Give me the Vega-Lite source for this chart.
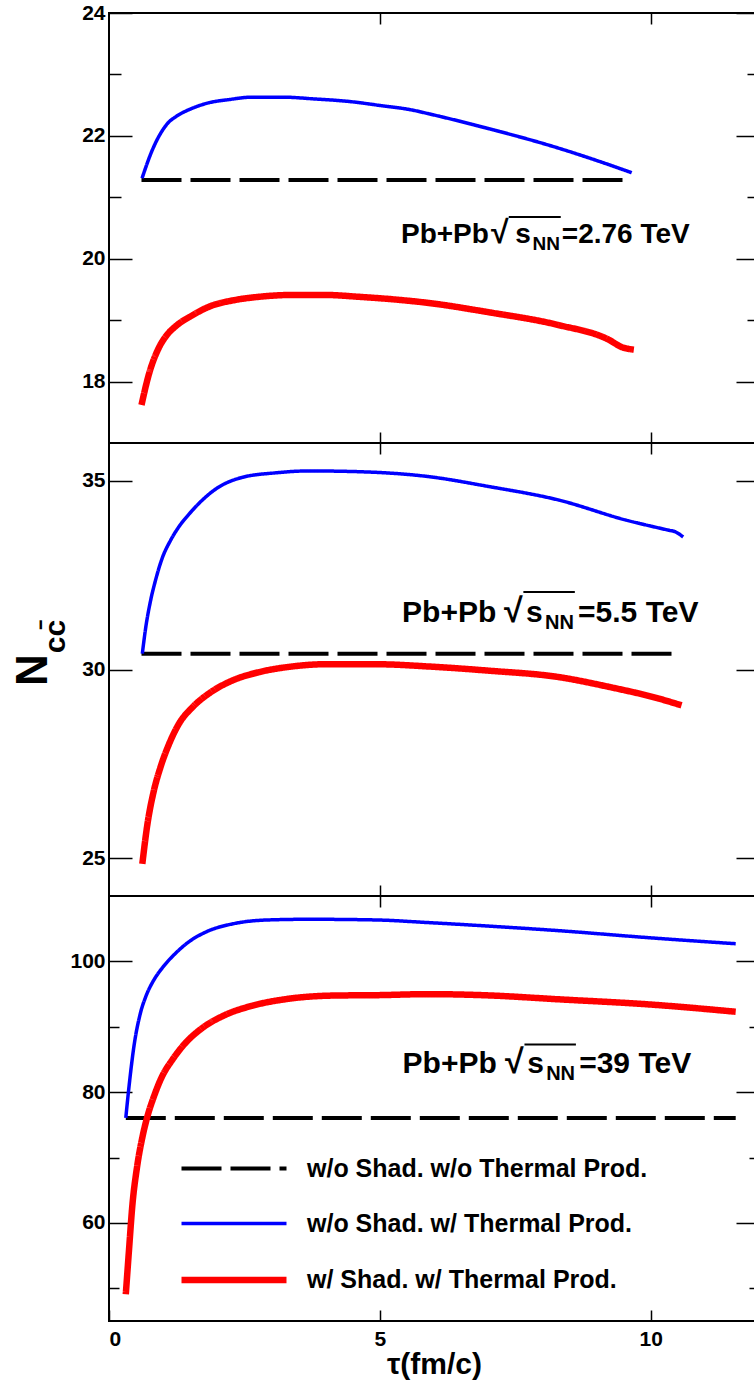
{
  "$schema": "https://vega.github.io/schema/vega-lite/v6.json",
  "autosize": {"type": "pad"},
  "padding": {"left": 10, "top": 1, "right": 0, "bottom": 0},
  "background": "white",
  "config": {
    "view": {"stroke": "black", "strokeWidth": 2},
    "axis": {"domain": false, "grid": false, "tickColor": "black", "tickWidth": 1.5, "labelFont": "Liberation Sans", "labelFontWeight": "bold", "labelFontSize": 21, "labelColor": "black", "titleFont": "Liberation Sans", "titleFontWeight": "bold", "titleColor": "black"},
    "text": {"font": "Liberation Sans", "fontWeight": "bold", "color": "black"}
  },
  "datasets": {
    "curves": [
      {"p": 1, "s": "w/o Shad. w/o Thermal Prod.", "t": 0.6, "n": 21.28},
      {"p": 1, "s": "w/o Shad. w/o Thermal Prod.", "t": 9.6, "n": 21.28},
      {"p": 1, "s": "w/o Shad. w/ Thermal Prod.", "t": 0.61, "n": 21.31},
      {"p": 1, "s": "w/o Shad. w/ Thermal Prod.", "t": 0.8, "n": 21.77},
      {"p": 1, "s": "w/o Shad. w/ Thermal Prod.", "t": 0.98, "n": 22.08},
      {"p": 1, "s": "w/o Shad. w/ Thermal Prod.", "t": 1.1, "n": 22.22},
      {"p": 1, "s": "w/o Shad. w/ Thermal Prod.", "t": 1.23, "n": 22.31},
      {"p": 1, "s": "w/o Shad. w/ Thermal Prod.", "t": 1.54, "n": 22.45},
      {"p": 1, "s": "w/o Shad. w/ Thermal Prod.", "t": 1.85, "n": 22.54},
      {"p": 1, "s": "w/o Shad. w/ Thermal Prod.", "t": 2.21, "n": 22.59},
      {"p": 1, "s": "w/o Shad. w/ Thermal Prod.", "t": 2.64, "n": 22.63},
      {"p": 1, "s": "w/o Shad. w/ Thermal Prod.", "t": 3.2, "n": 22.63},
      {"p": 1, "s": "w/o Shad. w/ Thermal Prod.", "t": 3.81, "n": 22.6},
      {"p": 1, "s": "w/o Shad. w/ Thermal Prod.", "t": 4.43, "n": 22.56},
      {"p": 1, "s": "w/o Shad. w/ Thermal Prod.", "t": 5.04, "n": 22.49},
      {"p": 1, "s": "w/o Shad. w/ Thermal Prod.", "t": 5.6, "n": 22.42},
      {"p": 1, "s": "w/o Shad. w/ Thermal Prod.", "t": 5.9, "n": 22.36},
      {"p": 1, "s": "w/o Shad. w/ Thermal Prod.", "t": 7.0, "n": 22.12},
      {"p": 1, "s": "w/o Shad. w/ Thermal Prod.", "t": 8.3, "n": 21.8},
      {"p": 1, "s": "w/o Shad. w/ Thermal Prod.", "t": 9.0, "n": 21.6},
      {"p": 1, "s": "w/o Shad. w/ Thermal Prod.", "t": 9.65, "n": 21.4},
      {"p": 1, "s": "w/ Shad. w/ Thermal Prod.", "t": 0.6, "n": 17.62},
      {"p": 1, "s": "w/ Shad. w/ Thermal Prod.", "t": 0.74, "n": 18.13},
      {"p": 1, "s": "w/ Shad. w/ Thermal Prod.", "t": 0.92, "n": 18.55},
      {"p": 1, "s": "w/ Shad. w/ Thermal Prod.", "t": 1.07, "n": 18.76},
      {"p": 1, "s": "w/ Shad. w/ Thermal Prod.", "t": 1.23, "n": 18.9},
      {"p": 1, "s": "w/ Shad. w/ Thermal Prod.", "t": 1.54, "n": 19.08},
      {"p": 1, "s": "w/ Shad. w/ Thermal Prod.", "t": 1.85, "n": 19.22},
      {"p": 1, "s": "w/ Shad. w/ Thermal Prod.", "t": 2.34, "n": 19.33},
      {"p": 1, "s": "w/ Shad. w/ Thermal Prod.", "t": 2.77, "n": 19.38},
      {"p": 1, "s": "w/ Shad. w/ Thermal Prod.", "t": 3.38, "n": 19.41},
      {"p": 1, "s": "w/ Shad. w/ Thermal Prod.", "t": 4.0, "n": 19.41},
      {"p": 1, "s": "w/ Shad. w/ Thermal Prod.", "t": 4.61, "n": 19.38},
      {"p": 1, "s": "w/ Shad. w/ Thermal Prod.", "t": 5.23, "n": 19.34},
      {"p": 1, "s": "w/ Shad. w/ Thermal Prod.", "t": 5.9, "n": 19.28},
      {"p": 1, "s": "w/ Shad. w/ Thermal Prod.", "t": 7.0, "n": 19.13},
      {"p": 1, "s": "w/ Shad. w/ Thermal Prod.", "t": 8.3, "n": 18.92},
      {"p": 1, "s": "w/ Shad. w/ Thermal Prod.", "t": 9.23, "n": 18.68},
      {"p": 1, "s": "w/ Shad. w/ Thermal Prod.", "t": 9.47, "n": 18.56},
      {"p": 1, "s": "w/ Shad. w/ Thermal Prod.", "t": 9.69, "n": 18.52},
      {"p": 2, "s": "w/o Shad. w/o Thermal Prod.", "t": 0.6, "n": 30.42},
      {"p": 2, "s": "w/o Shad. w/o Thermal Prod.", "t": 10.46, "n": 30.42},
      {"p": 2, "s": "w/o Shad. w/ Thermal Prod.", "t": 0.615, "n": 30.42},
      {"p": 2, "s": "w/o Shad. w/ Thermal Prod.", "t": 0.68, "n": 31.13},
      {"p": 2, "s": "w/o Shad. w/ Thermal Prod.", "t": 0.77, "n": 31.84},
      {"p": 2, "s": "w/o Shad. w/ Thermal Prod.", "t": 0.86, "n": 32.37},
      {"p": 2, "s": "w/o Shad. w/ Thermal Prod.", "t": 0.98, "n": 32.94},
      {"p": 2, "s": "w/o Shad. w/ Thermal Prod.", "t": 1.14, "n": 33.43},
      {"p": 2, "s": "w/o Shad. w/ Thermal Prod.", "t": 1.29, "n": 33.78},
      {"p": 2, "s": "w/o Shad. w/ Thermal Prod.", "t": 1.48, "n": 34.12},
      {"p": 2, "s": "w/o Shad. w/ Thermal Prod.", "t": 1.66, "n": 34.4},
      {"p": 2, "s": "w/o Shad. w/ Thermal Prod.", "t": 1.97, "n": 34.78},
      {"p": 2, "s": "w/o Shad. w/ Thermal Prod.", "t": 2.46, "n": 35.09},
      {"p": 2, "s": "w/o Shad. w/ Thermal Prod.", "t": 3.08, "n": 35.21},
      {"p": 2, "s": "w/o Shad. w/ Thermal Prod.", "t": 3.69, "n": 35.26},
      {"p": 2, "s": "w/o Shad. w/ Thermal Prod.", "t": 4.61, "n": 35.24},
      {"p": 2, "s": "w/o Shad. w/ Thermal Prod.", "t": 5.9, "n": 35.11},
      {"p": 2, "s": "w/o Shad. w/ Thermal Prod.", "t": 7.0, "n": 34.85},
      {"p": 2, "s": "w/o Shad. w/ Thermal Prod.", "t": 8.3, "n": 34.49},
      {"p": 2, "s": "w/o Shad. w/ Thermal Prod.", "t": 9.54, "n": 33.96},
      {"p": 2, "s": "w/o Shad. w/ Thermal Prod.", "t": 10.33, "n": 33.69},
      {"p": 2, "s": "w/o Shad. w/ Thermal Prod.", "t": 10.45, "n": 33.65},
      {"p": 2, "s": "w/o Shad. w/ Thermal Prod.", "t": 10.6, "n": 33.51},
      {"p": 2, "s": "w/ Shad. w/ Thermal Prod.", "t": 0.615, "n": 24.85},
      {"p": 2, "s": "w/ Shad. w/ Thermal Prod.", "t": 0.71, "n": 25.91},
      {"p": 2, "s": "w/ Shad. w/ Thermal Prod.", "t": 0.83, "n": 26.8},
      {"p": 2, "s": "w/ Shad. w/ Thermal Prod.", "t": 0.95, "n": 27.41},
      {"p": 2, "s": "w/ Shad. w/ Thermal Prod.", "t": 1.11, "n": 28.03},
      {"p": 2, "s": "w/ Shad. w/ Thermal Prod.", "t": 1.29, "n": 28.56},
      {"p": 2, "s": "w/ Shad. w/ Thermal Prod.", "t": 1.54, "n": 29.0},
      {"p": 2, "s": "w/ Shad. w/ Thermal Prod.", "t": 1.85, "n": 29.37},
      {"p": 2, "s": "w/ Shad. w/ Thermal Prod.", "t": 2.28, "n": 29.71},
      {"p": 2, "s": "w/ Shad. w/ Thermal Prod.", "t": 2.77, "n": 29.93},
      {"p": 2, "s": "w/ Shad. w/ Thermal Prod.", "t": 3.38, "n": 30.08},
      {"p": 2, "s": "w/ Shad. w/ Thermal Prod.", "t": 4.0, "n": 30.14},
      {"p": 2, "s": "w/ Shad. w/ Thermal Prod.", "t": 4.92, "n": 30.14},
      {"p": 2, "s": "w/ Shad. w/ Thermal Prod.", "t": 5.9, "n": 30.08},
      {"p": 2, "s": "w/ Shad. w/ Thermal Prod.", "t": 7.0, "n": 29.97},
      {"p": 2, "s": "w/ Shad. w/ Thermal Prod.", "t": 8.3, "n": 29.8},
      {"p": 2, "s": "w/ Shad. w/ Thermal Prod.", "t": 9.23, "n": 29.54},
      {"p": 2, "s": "w/ Shad. w/ Thermal Prod.", "t": 10.15, "n": 29.23},
      {"p": 2, "s": "w/ Shad. w/ Thermal Prod.", "t": 10.57, "n": 29.05},
      {"p": 3, "s": "w/o Shad. w/o Thermal Prod.", "t": 0.31, "n": 76.06},
      {"p": 3, "s": "w/o Shad. w/o Thermal Prod.", "t": 11.57, "n": 76.06},
      {"p": 3, "s": "w/o Shad. w/ Thermal Prod.", "t": 0.31, "n": 76.06},
      {"p": 3, "s": "w/o Shad. w/ Thermal Prod.", "t": 0.37, "n": 80.89},
      {"p": 3, "s": "w/o Shad. w/ Thermal Prod.", "t": 0.46, "n": 86.99},
      {"p": 3, "s": "w/o Shad. w/ Thermal Prod.", "t": 0.58, "n": 92.09},
      {"p": 3, "s": "w/o Shad. w/ Thermal Prod.", "t": 0.68, "n": 94.63},
      {"p": 3, "s": "w/o Shad. w/ Thermal Prod.", "t": 0.83, "n": 97.18},
      {"p": 3, "s": "w/o Shad. w/ Thermal Prod.", "t": 0.98, "n": 98.96},
      {"p": 3, "s": "w/o Shad. w/ Thermal Prod.", "t": 1.23, "n": 101.25},
      {"p": 3, "s": "w/o Shad. w/ Thermal Prod.", "t": 1.48, "n": 103.03},
      {"p": 3, "s": "w/o Shad. w/ Thermal Prod.", "t": 1.78, "n": 104.46},
      {"p": 3, "s": "w/o Shad. w/ Thermal Prod.", "t": 2.34, "n": 105.83},
      {"p": 3, "s": "w/o Shad. w/ Thermal Prod.", "t": 2.95, "n": 106.34},
      {"p": 3, "s": "w/o Shad. w/ Thermal Prod.", "t": 3.69, "n": 106.44},
      {"p": 3, "s": "w/o Shad. w/ Thermal Prod.", "t": 4.92, "n": 106.34},
      {"p": 3, "s": "w/o Shad. w/ Thermal Prod.", "t": 5.9, "n": 105.93},
      {"p": 3, "s": "w/o Shad. w/ Thermal Prod.", "t": 7.0, "n": 105.4},
      {"p": 3, "s": "w/o Shad. w/ Thermal Prod.", "t": 8.3, "n": 104.7},
      {"p": 3, "s": "w/o Shad. w/ Thermal Prod.", "t": 10.0, "n": 103.6},
      {"p": 3, "s": "w/o Shad. w/ Thermal Prod.", "t": 11.57, "n": 102.7},
      {"p": 3, "s": "w/ Shad. w/ Thermal Prod.", "t": 0.31, "n": 49.08},
      {"p": 3, "s": "w/ Shad. w/ Thermal Prod.", "t": 0.37, "n": 55.95},
      {"p": 3, "s": "w/ Shad. w/ Thermal Prod.", "t": 0.43, "n": 62.57},
      {"p": 3, "s": "w/ Shad. w/ Thermal Prod.", "t": 0.52, "n": 68.67},
      {"p": 3, "s": "w/ Shad. w/ Thermal Prod.", "t": 0.62, "n": 73.25},
      {"p": 3, "s": "w/ Shad. w/ Thermal Prod.", "t": 0.71, "n": 76.31},
      {"p": 3, "s": "w/ Shad. w/ Thermal Prod.", "t": 0.83, "n": 79.36},
      {"p": 3, "s": "w/ Shad. w/ Thermal Prod.", "t": 0.98, "n": 82.41},
      {"p": 3, "s": "w/ Shad. w/ Thermal Prod.", "t": 1.17, "n": 84.96},
      {"p": 3, "s": "w/ Shad. w/ Thermal Prod.", "t": 1.41, "n": 87.51},
      {"p": 3, "s": "w/ Shad. w/ Thermal Prod.", "t": 1.72, "n": 89.8},
      {"p": 3, "s": "w/ Shad. w/ Thermal Prod.", "t": 2.15, "n": 91.83},
      {"p": 3, "s": "w/ Shad. w/ Thermal Prod.", "t": 2.64, "n": 93.21},
      {"p": 3, "s": "w/ Shad. w/ Thermal Prod.", "t": 3.26, "n": 94.22},
      {"p": 3, "s": "w/ Shad. w/ Thermal Prod.", "t": 4.18, "n": 94.78},
      {"p": 3, "s": "w/ Shad. w/ Thermal Prod.", "t": 4.92, "n": 94.83},
      {"p": 3, "s": "w/ Shad. w/ Thermal Prod.", "t": 5.9, "n": 94.99},
      {"p": 3, "s": "w/ Shad. w/ Thermal Prod.", "t": 7.0, "n": 94.8},
      {"p": 3, "s": "w/ Shad. w/ Thermal Prod.", "t": 8.3, "n": 94.2},
      {"p": 3, "s": "w/ Shad. w/ Thermal Prod.", "t": 10.0, "n": 93.4},
      {"p": 3, "s": "w/ Shad. w/ Thermal Prod.", "t": 11.57, "n": 92.3}
    ],
    "ann": [
      {"p": 1, "part": "a", "t": 5.39, "n": 20.26, "txt": "Pb+Pb"},
      {"p": 1, "part": "r", "t": 7.05, "n": 20.26, "txt": "√"},
      {"p": 1, "part": "s", "t": 7.5, "n": 20.26, "txt": "s"},
      {"p": 1, "part": "nn", "t": 7.82, "n": 20.26, "txt": "NN"},
      {"p": 1, "part": "e", "t": 8.36, "n": 20.26, "txt": "=2.76 TeV"},
      {"p": 2, "part": "a", "t": 5.41, "n": 31.25, "txt": "Pb+Pb"},
      {"p": 2, "part": "r", "t": 7.29, "n": 31.25, "txt": "√"},
      {"p": 2, "part": "s", "t": 7.7, "n": 31.25, "txt": "s"},
      {"p": 2, "part": "nn", "t": 8.05, "n": 31.25, "txt": "NN"},
      {"p": 2, "part": "e", "t": 8.66, "n": 31.25, "txt": "=5.5 TeV"},
      {"p": 3, "part": "a", "t": 5.42, "n": 82.98, "txt": "Pb+Pb"},
      {"p": 3, "part": "r", "t": 7.31, "n": 82.98, "txt": "√"},
      {"p": 3, "part": "s", "t": 7.72, "n": 82.98, "txt": "s"},
      {"p": 3, "part": "nn", "t": 8.07, "n": 82.98, "txt": "NN"},
      {"p": 3, "part": "e", "t": 8.68, "n": 82.98, "txt": "=39 TeV"}
    ],
    "bars": [
      {"p": 1, "t": 7.38, "t2": 8.34, "n": 20.68},
      {"p": 2, "t": 7.65, "t2": 8.6, "n": 32.05},
      {"p": 3, "t": 7.67, "t2": 8.62, "n": 87.3}
    ]
  },
  "spacing": 0,
  "bounds": "flush",
  "resolve": {"legend": {"color": "independent", "strokeDash": "independent", "strokeWidth": "independent"}},
  "vconcat": [
    {
      "width": 650, "height": 430,
      "resolve": {"axis": {"x": "independent", "y": "independent"}},
      "layer": [
        {
          "data": {"name": "curves"},
          "transform": [{"filter": "datum.p == 1"}],
          "mark": {"type": "line", "interpolate": "monotone"},
          "encoding": {
            "x": {"field": "t", "type": "quantitative", "scale": {"domain": [0, 12], "nice": false, "zero": false}, "axis": {"orient": "bottom", "values": [5, 10], "tickSize": -11, "labels": false, "title": null}},
            "y": {"field": "n", "type": "quantitative", "scale": {"domain": [17, 24], "nice": false, "zero": false}, "axis": {"orient": "left", "values": [18, 20, 22, 24], "tickSize": -23, "labelPadding": 27, "title": null}},
            "color": {"field": "s", "type": "nominal", "scale": {"domain": ["w/o Shad. w/o Thermal Prod.", "w/o Shad. w/ Thermal Prod.", "w/ Shad. w/ Thermal Prod."], "range": ["#000000", "#0000ff", "#ff0000"]}, "legend": null},
            "strokeDash": {"field": "s", "type": "nominal", "scale": {"domain": ["w/o Shad. w/o Thermal Prod.", "w/o Shad. w/ Thermal Prod.", "w/ Shad. w/ Thermal Prod."], "range": [[40, 9], [1, 0], [1, 0]]}, "legend": null},
            "strokeWidth": {"field": "s", "type": "nominal", "scale": {"type": "ordinal", "domain": ["w/o Shad. w/o Thermal Prod.", "w/o Shad. w/ Thermal Prod.", "w/ Shad. w/ Thermal Prod."], "range": [4, 3.5, 6.5]}, "legend": null}
          }
        },
        {
          "data": {"name": "ann"},
          "transform": [{"filter": "datum.p == 1 && (datum.part == 'a' || datum.part == 's' || datum.part == 'e')"}],
          "mark": {"type": "text", "align": "left", "baseline": "alphabetic", "fontSize": 28},
          "encoding": {
            "x": {"field": "t", "type": "quantitative", "scale": {"domain": [0, 12], "nice": false, "zero": false}, "axis": {"orient": "top", "values": [5, 10], "tickSize": -11, "labels": false, "title": null}},
            "y": {"field": "n", "type": "quantitative", "scale": {"domain": [17, 24], "nice": false, "zero": false}, "axis": {"orient": "right", "values": [18, 20, 22, 24], "tickSize": -23, "labels": false, "title": null}},
            "text": {"field": "txt"}
          }
        },
        {
          "data": {"name": "ann"},
          "transform": [{"filter": "datum.p == 1 && datum.part == 'r'"}],
          "mark": {"type": "text", "align": "left", "baseline": "alphabetic", "fontSize": 32},
          "encoding": {
            "x": {"field": "t", "type": "quantitative", "scale": {"domain": [0, 12], "nice": false, "zero": false}, "axis": null},
            "y": {"field": "n", "type": "quantitative", "scale": {"domain": [17, 24], "nice": false, "zero": false}, "axis": {"orient": "right", "values": [19, 21, 23], "tickSize": -12, "labels": false, "title": null}},
            "text": {"field": "txt"}
          }
        },
        {
          "data": {"name": "ann"},
          "transform": [{"filter": "datum.p == 1 && datum.part == 'nn'"}],
          "mark": {"type": "text", "align": "left", "baseline": "alphabetic", "fontSize": 19, "dy": 7},
          "encoding": {
            "x": {"field": "t", "type": "quantitative", "scale": {"domain": [0, 12], "nice": false, "zero": false}, "axis": null},
            "y": {"field": "n", "type": "quantitative", "scale": {"domain": [17, 24], "nice": false, "zero": false}, "axis": {"orient": "left", "values": [19, 21, 23], "tickSize": -12, "labels": false, "title": null}},
            "text": {"field": "txt"}
          }
        },
        {
          "data": {"name": "bars"},
          "transform": [{"filter": "datum.p == 1"}],
          "mark": {"type": "rule", "color": "black", "strokeWidth": 2},
          "encoding": {
            "x": {"field": "t", "type": "quantitative", "scale": {"domain": [0, 12], "nice": false, "zero": false}, "axis": null},
            "x2": {"field": "t2"},
            "y": {"field": "n", "type": "quantitative", "scale": {"domain": [17, 24], "nice": false, "zero": false}, "axis": null}
          }
        }
      ]
    },
    {
      "width": 650, "height": 453,
      "resolve": {"axis": {"x": "independent", "y": "independent"}},
      "layer": [
        {
          "data": {"name": "curves"},
          "transform": [{"filter": "datum.p == 2"}],
          "mark": {"type": "line", "interpolate": "monotone"},
          "encoding": {
            "x": {"field": "t", "type": "quantitative", "scale": {"domain": [0, 12], "nice": false, "zero": false}, "axis": {"orient": "bottom", "values": [5, 10], "tickSize": -11, "labels": false, "title": null}},
            "y": {"field": "n", "type": "quantitative", "scale": {"domain": [24, 36], "nice": false, "zero": false}, "axis": {"orient": "left", "values": [25, 30, 35], "tickSize": -23, "labelPadding": 27, "title": "N", "titleFontSize": 44, "titlePadding": 26}},
            "color": {"field": "s", "type": "nominal", "scale": {"domain": ["w/o Shad. w/o Thermal Prod.", "w/o Shad. w/ Thermal Prod.", "w/ Shad. w/ Thermal Prod."], "range": ["#000000", "#0000ff", "#ff0000"]}, "legend": null},
            "strokeDash": {"field": "s", "type": "nominal", "scale": {"domain": ["w/o Shad. w/o Thermal Prod.", "w/o Shad. w/ Thermal Prod.", "w/ Shad. w/ Thermal Prod."], "range": [[40, 9], [1, 0], [1, 0]]}, "legend": null},
            "strokeWidth": {"field": "s", "type": "nominal", "scale": {"type": "ordinal", "domain": ["w/o Shad. w/o Thermal Prod.", "w/o Shad. w/ Thermal Prod.", "w/ Shad. w/ Thermal Prod."], "range": [4, 3.5, 6.5]}, "legend": null}
          }
        },
        {
          "data": {"name": "ann"},
          "transform": [{"filter": "datum.p == 2 && (datum.part == 'a' || datum.part == 's' || datum.part == 'e')"}],
          "mark": {"type": "text", "align": "left", "baseline": "alphabetic", "fontSize": 30},
          "encoding": {
            "x": {"field": "t", "type": "quantitative", "scale": {"domain": [0, 12], "nice": false, "zero": false}, "axis": {"orient": "top", "values": [5, 10], "tickSize": -11, "labels": false, "title": null}},
            "y": {"field": "n", "type": "quantitative", "scale": {"domain": [24, 36], "nice": false, "zero": false}, "axis": {"orient": "right", "values": [25, 30, 35], "tickSize": -23, "labels": false, "title": null}},
            "text": {"field": "txt"}
          }
        },
        {
          "data": {"name": "ann"},
          "transform": [{"filter": "datum.p == 2 && datum.part == 'r'"}],
          "mark": {"type": "text", "align": "left", "baseline": "alphabetic", "fontSize": 34},
          "encoding": {
            "x": {"field": "t", "type": "quantitative", "scale": {"domain": [0, 12], "nice": false, "zero": false}, "axis": null},
            "y": {"field": "n", "type": "quantitative", "scale": {"domain": [24, 36], "nice": false, "zero": false}, "axis": null},
            "text": {"field": "txt"}
          }
        },
        {
          "data": {"name": "ann"},
          "transform": [{"filter": "datum.p == 2 && datum.part == 'nn'"}],
          "mark": {"type": "text", "align": "left", "baseline": "alphabetic", "fontSize": 20, "dy": 7},
          "encoding": {
            "x": {"field": "t", "type": "quantitative", "scale": {"domain": [0, 12], "nice": false, "zero": false}, "axis": null},
            "y": {"field": "n", "type": "quantitative", "scale": {"domain": [24, 36], "nice": false, "zero": false}, "axis": {"orient": "left", "ticks": false, "labels": false, "title": "cc̄", "titleFontSize": 30, "titlePadding": 39, "titleY": 193}},
            "text": {"field": "txt"}
          }
        },
        {
          "data": {"name": "bars"},
          "transform": [{"filter": "datum.p == 2"}],
          "mark": {"type": "rule", "color": "black", "strokeWidth": 2},
          "encoding": {
            "x": {"field": "t", "type": "quantitative", "scale": {"domain": [0, 12], "nice": false, "zero": false}, "axis": null},
            "x2": {"field": "t2"},
            "y": {"field": "n", "type": "quantitative", "scale": {"domain": [24, 36], "nice": false, "zero": false}, "axis": null}
          }
        }
      ]
    },
    {
      "width": 650, "height": 425,
      "resolve": {"axis": {"x": "independent", "y": "independent"}},
      "layer": [
        {
          "data": {"name": "curves"},
          "transform": [{"filter": "datum.p == 3"}],
          "mark": {"type": "line", "interpolate": "monotone"},
          "encoding": {
            "x": {"field": "t", "type": "quantitative", "scale": {"domain": [0, 12], "nice": false, "zero": false}, "axis": {"orient": "bottom", "values": [0, 5, 10], "tickSize": -11, "labelPadding": 18, "title": "τ(fm/c)", "titleFontSize": 30, "titlePadding": 0}},
            "y": {"field": "n", "type": "quantitative", "scale": {"domain": [45, 110], "nice": false, "zero": false}, "axis": {"orient": "left", "values": [60, 80, 100], "tickSize": -23, "labelPadding": 27, "title": null}},
            "color": {"field": "s", "type": "nominal", "scale": {"domain": ["w/o Shad. w/o Thermal Prod.", "w/o Shad. w/ Thermal Prod.", "w/ Shad. w/ Thermal Prod."], "range": ["#000000", "#0000ff", "#ff0000"]}, "legend": {"orient": "none", "legendX": 104, "legendY": 253, "direction": "vertical", "title": null, "symbolType": "M-3,0H3", "symbolSize": 1225, "labelFontSize": 25, "labelFont": "Liberation Sans", "labelFontWeight": "bold", "labelColor": "black", "labelOffset": 52, "rowPadding": 22, "padding": 0, "labelLimit": 0}},
            "strokeDash": {"field": "s", "type": "nominal", "scale": {"domain": ["w/o Shad. w/o Thermal Prod.", "w/o Shad. w/ Thermal Prod.", "w/ Shad. w/ Thermal Prod."], "range": [[40, 9], [1, 0], [1, 0]]}, "legend": {"orient": "none", "legendX": 104, "legendY": 253, "direction": "vertical", "title": null, "symbolType": "M-3,0H3", "symbolSize": 1225, "labelFontSize": 25, "labelFont": "Liberation Sans", "labelFontWeight": "bold", "labelColor": "black", "labelOffset": 52, "rowPadding": 22, "padding": 0, "labelLimit": 0}},
            "strokeWidth": {"field": "s", "type": "nominal", "scale": {"type": "ordinal", "domain": ["w/o Shad. w/o Thermal Prod.", "w/o Shad. w/ Thermal Prod.", "w/ Shad. w/ Thermal Prod."], "range": [4, 3.5, 6.5]}, "legend": {"orient": "none", "legendX": 104, "legendY": 253, "direction": "vertical", "title": null, "symbolType": "M-3,0H3", "symbolSize": 1225, "labelFontSize": 25, "labelFont": "Liberation Sans", "labelFontWeight": "bold", "labelColor": "black", "labelOffset": 52, "rowPadding": 22, "padding": 0, "labelLimit": 0}}
          }
        },
        {
          "data": {"name": "ann"},
          "transform": [{"filter": "datum.p == 3 && (datum.part == 'a' || datum.part == 's' || datum.part == 'e')"}],
          "mark": {"type": "text", "align": "left", "baseline": "alphabetic", "fontSize": 30},
          "encoding": {
            "x": {"field": "t", "type": "quantitative", "scale": {"domain": [0, 12], "nice": false, "zero": false}, "axis": {"orient": "top", "values": [5, 10], "tickSize": -11, "labels": false, "title": null}},
            "y": {"field": "n", "type": "quantitative", "scale": {"domain": [45, 110], "nice": false, "zero": false}, "axis": {"orient": "right", "values": [60, 80, 100], "tickSize": -23, "labels": false, "title": null}},
            "text": {"field": "txt"}
          }
        },
        {
          "data": {"name": "ann"},
          "transform": [{"filter": "datum.p == 3 && datum.part == 'r'"}],
          "mark": {"type": "text", "align": "left", "baseline": "alphabetic", "fontSize": 34},
          "encoding": {
            "x": {"field": "t", "type": "quantitative", "scale": {"domain": [0, 12], "nice": false, "zero": false}, "axis": null},
            "y": {"field": "n", "type": "quantitative", "scale": {"domain": [45, 110], "nice": false, "zero": false}, "axis": {"orient": "right", "values": [50, 70, 90], "tickSize": -10, "labels": false, "title": null}},
            "text": {"field": "txt"}
          }
        },
        {
          "data": {"name": "ann"},
          "transform": [{"filter": "datum.p == 3 && datum.part == 'nn'"}],
          "mark": {"type": "text", "align": "left", "baseline": "alphabetic", "fontSize": 20, "dy": 7},
          "encoding": {
            "x": {"field": "t", "type": "quantitative", "scale": {"domain": [0, 12], "nice": false, "zero": false}, "axis": null},
            "y": {"field": "n", "type": "quantitative", "scale": {"domain": [45, 110], "nice": false, "zero": false}, "axis": {"orient": "left", "values": [50, 70, 90], "tickSize": -10, "labels": false, "title": null}},
            "text": {"field": "txt"}
          }
        },
        {
          "data": {"name": "bars"},
          "transform": [{"filter": "datum.p == 3"}],
          "mark": {"type": "rule", "color": "black", "strokeWidth": 2},
          "encoding": {
            "x": {"field": "t", "type": "quantitative", "scale": {"domain": [0, 12], "nice": false, "zero": false}, "axis": null},
            "x2": {"field": "t2"},
            "y": {"field": "n", "type": "quantitative", "scale": {"domain": [45, 110], "nice": false, "zero": false}, "axis": null}
          }
        }
      ]
    }
  ]
}
